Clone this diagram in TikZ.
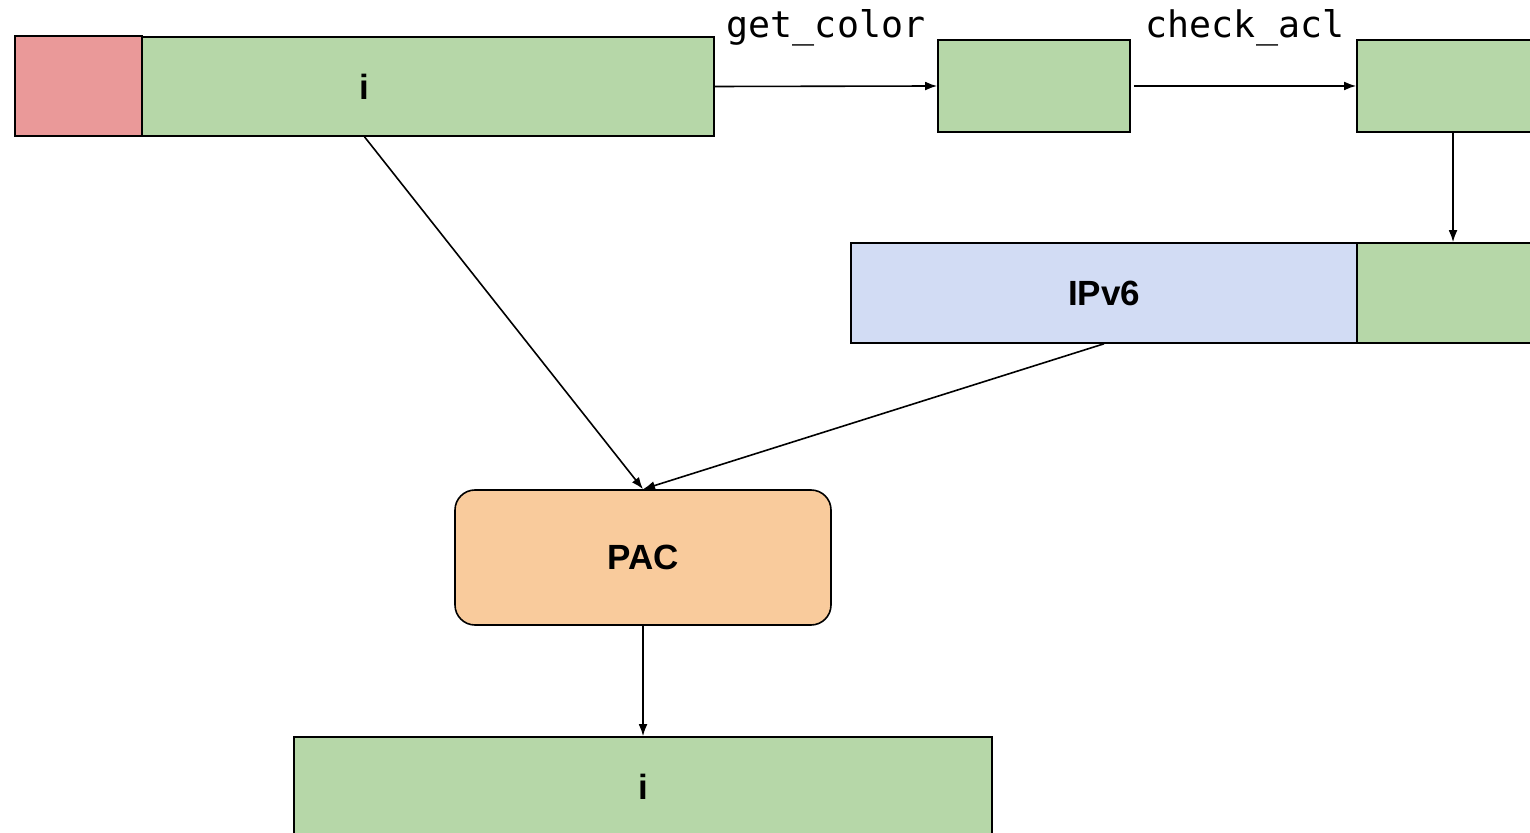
\documentclass[tikz,border=0pt]{standalone}
\usepackage{fontspec}
\setmainfont{Liberation Sans}
\setmonofont{DejaVu Sans Mono}
\usetikzlibrary{arrows.meta}
\definecolor{boxgreen}{HTML}{B6D7A8}
\definecolor{boxred}{HTML}{EA9999}
\definecolor{boxblue}{HTML}{D2DCF4}
\definecolor{boxorange}{HTML}{F9CB9C}
\begin{document}
\begin{tikzpicture}[x=0.5pt,y=-0.5pt,
  blk/.style={draw=black, line width=0.8pt, inner sep=0pt,
    font=\fontsize{17.5}{20}\selectfont\bfseries},
  greenblk/.style={blk, fill=boxgreen},
  fnlabel/.style={font=\ttfamily\fontsize{18.3}{20}\selectfont, inner sep=0pt},
  conn/.style={draw=black, line width=0.8pt, -{Latex[length=6pt,width=4.4pt]}}]
\useasboundingbox (0,0) rectangle (1530,833);
\clip (0,0) rectangle (1530,833);

% first record: tag cell over the left end of the wide record
\node[greenblk, minimum width=349.5pt, minimum height=49.5pt] (i) at (364.5,86.5) {i};
\node[blk, fill=boxred, minimum width=63.5pt, minimum height=50pt] (tag) at (78.5,86) {};

% lookup chain
\node[greenblk, minimum width=96pt, minimum height=46pt] (color) at (1034,86) {};
\node[greenblk, minimum width=96pt, minimum height=46pt] (acl) at (1453,86) {};

% address record
\node[blk, fill=boxblue, minimum width=253pt, minimum height=50pt] (ipv6) at (1104,293) {IPv6};
\node[greenblk, minimum width=96pt, minimum height=50pt] (aclout) at (1453,293) {};

% authentication step and its result
\node[blk, fill=boxorange, rounded corners=10pt, minimum width=188pt, minimum height=67.5pt] (pac) at (643,557.5) {PAC};
\node[greenblk, minimum width=349pt, minimum height=50pt] (out) at (643,787) {i};

% function labels
\node[fnlabel] (getcolor) at (826,28) {get\_color};
\node[fnlabel] (checkacl) at (1245,28) {check\_acl};

% connectors
\draw[conn] (i.east) -- (color.west);
\draw[conn] ([xshift=1.5pt]color.east) -- (acl.west);
\draw[conn] (acl.south) -- (aclout.north);
\draw[conn] (i.south) -- (pac.north);
\draw[conn] (ipv6.south) -- (pac.north);
\draw[conn] (pac.south) -- (out.north);
\end{tikzpicture}
\end{document}
